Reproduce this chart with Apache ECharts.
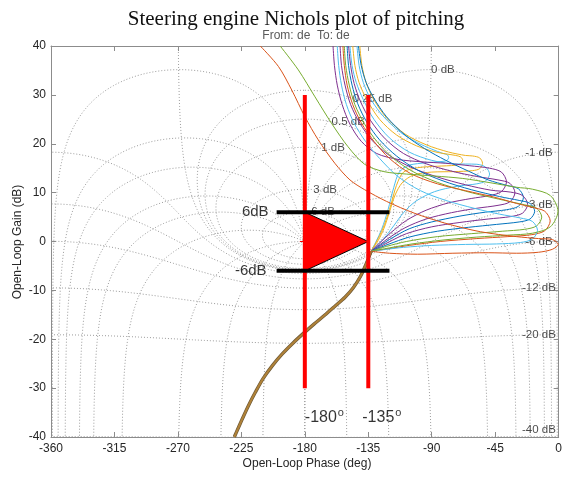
<!DOCTYPE html>
<html>
<head>
<meta charset="utf-8">
<script src="https://cdn.jsdelivr.net/npm/echarts@6/dist/echarts.min.js"></script>
<style>
html,body{margin:0;padding:0;background:#fff;}
#chart{width:565px;height:477px;}
</style>
</head>
<body>
<div id="chart"></div>
<script>
// Nichols grid levels: closed-loop gain (dB) and closed-loop phase (deg, lag)
const mContourDb = [6, 3, 1, 0.5, 0.25, 0, -1, -3, -6, -12, -20, -40];
const nContourDeg = [1, 5, 10, 20, 30, 50, 90, 120, 150, 180];

// Open-loop responses, [phase (deg), gain (dB)]
const respLightBlueA = [[-143,40],[-141.5,36],[-138.5,32.5],[-133,29],[-124,25.5],[-112,22.3],[-100,20.2],[-90,18.9],[-82,18],[-79.2,17.8],[-78,17.2],[-79.2,16.6],[-82,16.4],[-94,16.1],[-106,15.6],[-113,14.2],[-117,11],[-121,6.5],[-125.5,2.5],[-129.5,0],[-133,-2]];
const respYellowA = [[-146,40],[-144.5,36],[-141.5,32.5],[-136,29],[-127,25],[-115,21.8],[-101,19.6],[-87,18.3],[-73,17.6],[-69.5,17.3],[-68,16.6],[-69.5,15.9],[-73,15.6],[-86,15.4],[-100,15.1],[-110,14.2],[-115,11.5],[-119,7.5],[-123.5,3.5],[-128,0.6],[-133,-2]];
const respYellowB = [[-141,40],[-139.5,36],[-136.5,32.5],[-131,29],[-122,25.3],[-109,22],[-94,19.8],[-78,18.3],[-66,17.6],[-61,17.5],[-56,17.1],[-54,16],[-56,14.9],[-61,14.5],[-74,14.3],[-90,14.2],[-103,13.6],[-111,12],[-116,9.5],[-120,6],[-124,2.6],[-128,0.2],[-133,-2]];
const respLightBlueB = [[-148,40],[-146.5,36],[-143.5,32.5],[-138.5,29],[-131,25],[-120,21.2],[-106,18.3],[-90,16.6],[-74,15.9],[-58,15.8],[-51.7,15.2],[-49,13.8],[-51.7,12.4],[-58,11.8],[-72,11.3],[-88,10.2],[-101,8.3],[-110,5.9],[-117,3.2],[-124,0.6],[-133,-2]];
const respPurpleA = [[-160,40],[-159,36],[-157,32],[-153.5,28],[-148,24],[-140,20.5],[-129,18],[-114,16.8],[-97,16.3],[-80,16],[-63,15.5],[-49,15],[-40.6,14.2],[-37,12.2],[-40.6,10.2],[-49,9.4],[-62,8.8],[-78,7.9],[-94,6.4],[-108,4.3],[-119,1.8],[-127,-0.3],[-133,-2]];
const respPurpleC = [[-149,40],[-147.5,36],[-145,32.3],[-140.5,28.6],[-133.5,24.8],[-123,21],[-110,18],[-94,15.9],[-76,14.4],[-58,13.3],[-43,12.6],[-34.6,11.9],[-31,10],[-34.6,8.1],[-43,7.4],[-58,6.8],[-76,5.9],[-94,4.6],[-109,2.8],[-121,0.6],[-133,-2]];
const respBlueA = [[-142,40],[-140,36],[-136.5,32.5],[-131,29.3],[-122,25.5],[-109,21.8],[-95,19],[-80,16.6],[-64,14.4],[-50,12.6],[-37,11.5],[-28.6,10.8],[-25,9],[-28.6,7.2],[-37,6.5],[-52,6],[-70,5.2],[-90,4],[-106,2.6],[-120,0.4],[-133,-2]];
const respPurpleB = [[-155,40],[-154,36],[-151.5,32],[-147.5,28],[-141,24.2],[-132,20.6],[-120,17.6],[-104,15.1],[-86,13.2],[-66,11.6],[-48,10.5],[-34,10.1],[-25.6,9.4],[-22,7.6],[-25.6,5.8],[-34,5.1],[-50,4.6],[-70,3.9],[-90,3],[-108,1.6],[-121,-0.2],[-133,-2]];
const respBlueB = [[-150,40],[-149,36],[-146.5,32],[-142.5,28.2],[-136,24.4],[-127,20.8],[-115,17.5],[-100,14.6],[-82,12.4],[-62,10.6],[-42,9.2],[-28,8.4],[-20.3,7.8],[-17,6.2],[-20.3,4.6],[-28,4],[-44,3.5],[-64,2.9],[-86,2.1],[-106,0.9],[-121,-0.6],[-133,-2]];
const respGreenA = [[-152,40],[-151,36],[-148.5,32],[-144.5,28],[-138,24.2],[-129,20.5],[-118,17.2],[-104,14.4],[-86,12.1],[-66,10.3],[-46,8.9],[-32,8],[-24,7.5],[-15.6,6.8],[-12,5],[-15.6,3.2],[-24,2.5],[-40,2.1],[-62,1.6],[-86,1],[-108,0],[-122,-1],[-133,-2]];
const respOrangeA = [[-153,40],[-152,36],[-150,32],[-146,28],[-140,24.3],[-131,20.5],[-120,17],[-105,13.9],[-86,11.8],[-66,10.4],[-46,9.1],[-30,7.8],[-19,7],[-9.9,6.2],[-6,4.2],[-9.9,2.2],[-19,1.4],[-36,1],[-58,0.6],[-84,0],[-106,-0.8],[-121,-1.5],[-133,-2]];
const respLightBlueC = [[-157,40],[-156,36],[-154,32],[-150.5,28],[-145,24.2],[-137,20.5],[-127,17],[-114,13.3],[-98,10.4],[-80,8.4],[-60,6.8],[-42,5.6],[-27,4.8],[-18.6,4.1],[-15,2.3],[-18.6,0.5],[-27,-0.2],[-44,-0.5],[-66,-0.6],[-90,-0.8],[-110,-1.2],[-122,-1.6],[-133,-2]];
const respGreenB = [[-197.5,40],[-184.6,35.1],[-172.8,29.6],[-161.1,24.2],[-149.4,19.4],[-137.6,15.8],[-124,14.3],[-108,13.8],[-88,13.4],[-68,12.9],[-48,12],[-30,11.1],[-18.5,10.7],[-5.9,9.4],[-0.5,6.2],[-5.9,3],[-18.5,1.7],[-36,1.3],[-58,0.9],[-82,0.3],[-104,-0.5],[-120,-1.3],[-133,-2]];
const respOrangeB = [[-211.6,40],[-198.7,35.8],[-189.3,31],[-179.9,25.5],[-170.5,20.8],[-158.7,16],[-148,12.6],[-137.6,10.6],[-122,8.2],[-102.4,5.8],[-80,3.7],[-55.5,2],[-30,1],[-14.3,0.6],[-4.5,0.4],[-0.3,-0.6],[-4.5,-1.6],[-14.3,-2.2],[-30,-2.4],[-50,-2.3],[-75,-2.4],[-100,-2.6],[-120,-2.4],[-133,-2]];
// shared high-frequency branch
const respTail = [[-133,-2],[-136.5,-4.6],[-140.5,-7.1],[-145.5,-9.4],[-151.5,-11.4],[-158.5,-13.2],[-166,-15.1],[-173.5,-16.9],[-181,-18.8],[-188.5,-20.8],[-196,-23],[-203,-25.4],[-209.5,-28],[-215,-30.8],[-220,-33.6],[-224.5,-36.4],[-228.8,-39.2],[-230,-40]];

// stability margin markers
const phaseMarks = [-180, -135];
const phaseMarkGain = [30, -30];
const gainMarks = [6, -6];
const gainMarkPhase = [-200, -120];
const marginTriangle = [[-180, 6], [-180, -6], [-135, 0]];
const criticalPoint = [[-180, 0]];

const C = {
  blue: '#0072BD', orange: '#D95319', yellow: '#EDB120', purple: '#7E2F8E',
  green: '#77AC30', lightBlue: '#4DBEEE'
};
const responses = [
  [respLightBlueA, C.lightBlue], [respYellowA, C.yellow], [respYellowB, C.yellow],
  [respLightBlueB, C.lightBlue], [respPurpleA, C.purple], [respPurpleC, C.purple],
  [respBlueA, C.blue], [respPurpleB, C.purple], [respBlueB, C.blue],
  [respGreenA, C.green], [respOrangeA, C.orange], [respLightBlueC, C.lightBlue],
  [respGreenB, C.green], [respOrangeB, C.orange]
];

// ---- Nichols chart contours ----
function toNichols(re, im) {
  let ph = Math.atan2(im, re) * 180 / Math.PI;
  if (ph > 0) ph -= 360;
  const g = 10 * Math.log10(re * re + im * im);
  return [ph, g];
}
// open loop L = T / (1 - T)
function openLoop(tr, ti) {
  const dr = 1 - tr, di = -ti;
  const den = dr * dr + di * di;
  return [(tr * dr + ti * di) / den, (ti * dr - tr * di) / den];
}
function mContour(db) {
  const m = Math.pow(10, db / 20);
  const pts = [];
  const N = 3000;
  for (let k = 1; k < N; k++) {
    const s = k / N;
    const w = s < 0.5 ? 4 * s * s * s : 1 - 4 * Math.pow(1 - s, 3);
    const th = -2 * Math.PI * w;
    const L = openLoop(m * Math.cos(th), m * Math.sin(th));
    const p = toNichols(L[0], L[1]);
    if (p[1] > -60 && p[1] < 60) pts.push(p);
  }
  return pts;
}
function nContour(psiDeg) {
  const ps = -psiDeg * Math.PI / 180;
  const pts = [];
  const N = 2400;
  for (let k = 0; k <= N; k++) {
    const u = -1 + 2 * k / N;
    const x = 3 * Math.sign(u) * Math.abs(u) * u * u;
    const m = Math.pow(10, x);
    const L = openLoop(m * Math.cos(ps), m * Math.sin(ps));
    const p = toNichols(L[0], L[1]);
    if (p[1] > -60 && p[1] < 60) pts.push(p);
  }
  return pts;
}

const gridStyle = { color: '#8f8f8f', width: 0.9, type: [1, 2] };
const series = [];
const mCurves = {};
mContourDb.forEach(db => {
  const pts = mContour(db);
  mCurves[db] = pts;
  series.push({ type: 'line', data: pts, showSymbol: false, silent: true, z: 1,
    lineStyle: gridStyle, animation: false });
});
nContourDeg.forEach(psi => {
  const pts = nContour(psi);
  series.push({ type: 'line', data: pts, showSymbol: false, silent: true, z: 1,
    lineStyle: gridStyle, animation: false });
  series.push({ type: 'line', data: pts.map(p => [-360 - p[0], p[1]]), showSymbol: false,
    silent: true, z: 1, lineStyle: gridStyle, animation: false });
});

// contour labels
const upperLabelPhase = { '6': -175.5, '3': -174, '1': -168.4, '0.5': -161, '0.25': -146, '0': -90.5 };
const labelData = [];
mContourDb.forEach(db => {
  const pts = mCurves[db];
  if (db > 0) {
    const target = upperLabelPhase[String(db)];
    let best = null;
    pts.forEach(p => { if (Math.abs(p[0] - target) < 0.6 && (!best || p[1] > best[1])) best = p; });
    labelData.push({ value: [target, best[1]], label: { formatter: db + ' dB', align: 'left' } });
  } else if (db === 0) {
    const target = upperLabelPhase['0'];
    let best = null;
    pts.forEach(p => { if (p[0] > -180 && (!best || Math.abs(p[0] - target) < Math.abs(best[0] - target))) best = p; });
    labelData.push({ value: [target, best[1]], label: { formatter: db + ' dB', align: 'left' } });
  } else {
    let best = null;
    pts.forEach(p => { if (p[0] > -40 && (!best || Math.abs(p[0] + 14) < Math.abs(best[0] + 14))) best = p; });
    labelData.push({ value: [-14, Math.max(best[1], -38.6)], label: { formatter: db + ' dB', align: 'center' } });
  }
});
series.push({
  type: 'scatter', data: labelData, symbolSize: 0, silent: true, z: 3, animation: false,
  label: { show: true, position: 'inside', verticalAlign: 'middle', color: '#1a1a1a',
    fontSize: 11.5, fontFamily: 'Liberation Sans' }
});

// responses
responses.forEach(([pts, col]) => {
  series.push({ type: 'line', data: pts, smooth: 0.3, showSymbol: false, silent: true, z: 4,
    lineStyle: { color: col, width: 1 }, animation: false });
});
series.push({ type: 'line', data: respTail, smooth: 0.3, showSymbol: false, silent: true, z: 5,
  lineStyle: { color: '#6e5a38', width: 3.4 }, animation: false });
series.push({ type: 'line', data: respTail, smooth: 0.3, showSymbol: false, silent: true, z: 5,
  lineStyle: { color: '#b08238', width: 2 }, animation: false });

// critical point
series.push({
  type: 'custom', data: criticalPoint, silent: true, z: 6, animation: false,
  renderItem: (params, api) => {
    const c = api.coord([api.value(0), api.value(1)]);
    return { type: 'group', children: [
      { type: 'line', shape: { x1: c[0] - 5, y1: c[1], x2: c[0] + 5, y2: c[1] }, style: { stroke: '#ff0000', lineWidth: 1 } },
      { type: 'line', shape: { x1: c[0], y1: c[1] - 5, x2: c[0], y2: c[1] + 5 }, style: { stroke: '#ff0000', lineWidth: 1 } }
    ] };
  }
});
// triangle
series.push({
  type: 'custom', data: [0], silent: true, z: 7, animation: false,
  renderItem: (params, api) => ({
    type: 'polygon',
    shape: { points: marginTriangle.map(p => api.coord(p)) },
    style: { fill: '#ff0000', stroke: '#000', lineWidth: 1 }
  })
});
// phase markers
phaseMarks.forEach(ph => {
  series.push({ type: 'line', data: phaseMarkGain.map(g => [ph, g]), showSymbol: false, silent: true,
    z: 8, lineStyle: { color: '#ff0000', width: 4 }, animation: false });
});
// gain markers
gainMarks.forEach(g => {
  series.push({ type: 'line', data: gainMarkPhase.map(ph => [ph, g]), showSymbol: false, silent: true,
    z: 9, lineStyle: { color: '#000', width: 4 }, animation: false });
});
// marker annotations
series.push({
  type: 'scatter', symbolSize: 0, silent: true, z: 10, animation: false,
  data: [
    { value: [gainMarkPhase[0], gainMarks[0]], label: { formatter: '6dB', align: 'right', offset: [-8, 0] } },
    { value: [gainMarkPhase[0], gainMarks[1]], label: { formatter: '-6dB', align: 'right', offset: [-10, 0] } },
    { value: [phaseMarks[0], -36], label: { formatter: '{n|-180}{s|o}', align: 'left', offset: [0, 0] } },
    { value: [phaseMarks[1], -36], label: { formatter: '{n|-135}{s|o}', align: 'left', offset: [-6, 0] } }
  ],
  label: { show: true, position: 'inside', verticalAlign: 'middle', color: '#000', fontSize: 15,
    fontFamily: 'Liberation Sans',
    rich: { n: { fontSize: 16, fontFamily: 'Liberation Sans', color: '#000' },
            s: { fontSize: 11, fontFamily: 'Liberation Sans', color: '#000', verticalAlign: 'top', padding: [0, 0, 9, 1] } } }
});

const axisColor = '#8c8c8c';
const baseAxis = {
  type: 'value',
  axisLine: { show: true, onZero: false, lineStyle: { color: axisColor, width: 1 } },
  axisTick: { show: true, inside: true, length: 5, lineStyle: { color: axisColor } },
  splitLine: { show: false },
  axisLabel: { color: '#262626', fontSize: 12, fontFamily: 'Liberation Sans' }
};
const option = {
  animation: false,
  backgroundColor: '#fff',
  grid: { left: 51, right: 3, top: 46, bottom: 40, containLabel: false },
  xAxis: [
    Object.assign({}, baseAxis, { min: -360, max: 0, interval: 45, position: 'bottom',
      axisLabel: Object.assign({}, baseAxis.axisLabel, { margin: 6 }) }),
    Object.assign({}, baseAxis, { min: -360, max: 0, interval: 45, position: 'top',
      axisLabel: { show: false } })
  ],
  yAxis: [
    Object.assign({}, baseAxis, { min: -40, max: 40, interval: 10, position: 'left',
      axisLabel: Object.assign({}, baseAxis.axisLabel, { margin: 5 }) }),
    Object.assign({}, baseAxis, { min: -40, max: 40, interval: 10, position: 'right',
      axisLabel: { show: false } })
  ],
  graphic: [
    { type: 'text', x: 296, y: 19, style: { text: 'Steering engine Nichols plot of pitching',
      font: '21px "Liberation Serif"', fill: '#111', align: 'center', verticalAlign: 'middle' } },
    { type: 'text', x: 306, y: 36, style: { text: 'From: de  To: de',
      font: '12px "Liberation Sans"', fill: '#5a5a5a', align: 'center', verticalAlign: 'middle' } },
    { type: 'text', x: 307, y: 464, style: { text: 'Open-Loop Phase (deg)',
      font: '12px "Liberation Sans"', fill: '#262626', align: 'center', verticalAlign: 'middle' } },
    { type: 'text', x: 18, y: 242, rotation: Math.PI / 2, style: { text: 'Open-Loop Gain (dB)',
      font: '12px "Liberation Sans"', fill: '#262626', align: 'center', verticalAlign: 'middle' } }
  ],
  series: series
};
const chart = echarts.init(document.getElementById('chart'));
chart.setOption(option);
</script>
</body>
</html>
